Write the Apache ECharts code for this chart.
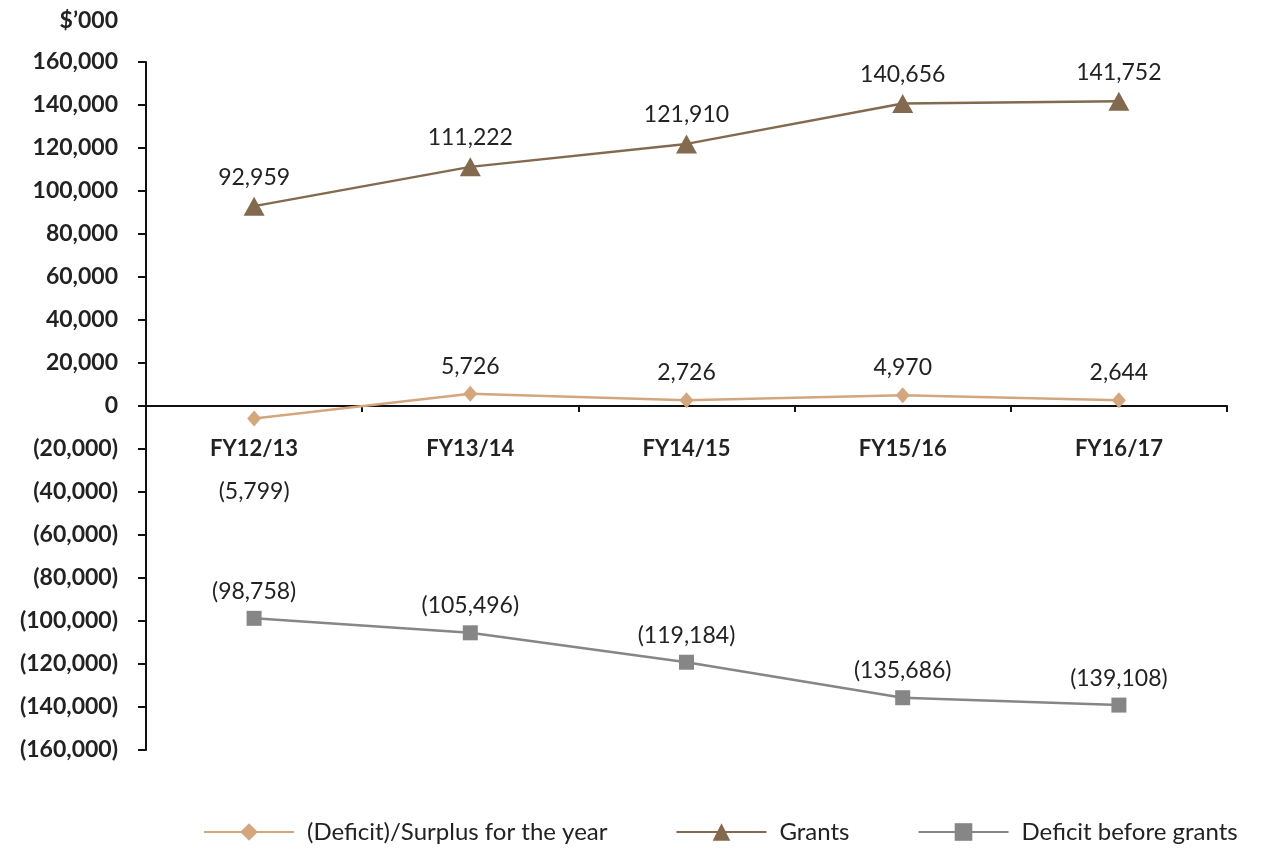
<!DOCTYPE html>
<html>
<head>
<meta charset="utf-8">
<script src="https://cdn.jsdelivr.net/npm/echarts@6/dist/echarts.min.js"></script>
<style>
  html, body { margin: 0; padding: 0; background: #fff; }
  #chart { width: 1273px; height: 849px; }
</style>
</head>
<body>
<div id="chart"></div>
<script>
const years = ['FY12/13', 'FY13/14', 'FY14/15', 'FY15/16', 'FY16/17'];
const surplus = [-5799, 5726, 2726, 4970, 2644];
const grants = [92959, 111222, 121910, 140656, 141752];
const deficitBeforeGrants = [-98758, -105496, -119184, -135686, -139108];
const yMin = -160000, yMax = 160000, yStep = 20000;

function fmt(v) {
  const s = Math.abs(v).toLocaleString('en-US');
  return v < 0 ? '(' + s + ')' : s;
}

const font = 'Lato, "Noto Sans", sans-serif';
const labelStyle = { show: true, position: 'top', distance: 8, color: '#222', fontSize: 23, fontFamily: font,
  formatter: p => fmt(p.value) };

let chart = echarts.init(document.getElementById('chart'));
chart.setOption({
  animation: false,
  textStyle: { fontFamily: font },
  grid: { left: 146, right: 46, top: 62, bottom: 99 },
  legend: {
    bottom: 0, left: 198,
    itemWidth: 90, itemHeight: 22, itemGap: 68,
    textStyle: { fontSize: 24, color: '#222', fontFamily: font, padding: [0, 0, 0, 8] },
    data: ['(Deficit)/Surplus for the year', 'Grants', 'Deficit before grants']
  },
  xAxis: {
    type: 'category',
    data: years,
    axisLine: { onZero: true, lineStyle: { color: '#111', width: 2 } },
    axisTick: { show: true, inside: false, length: 6, lineStyle: { color: '#111', width: 2 } },
    // labels sit just under the zero line, as in the original
    axisLabel: { margin: -312, fontSize: 22, fontWeight: 'bold', color: '#222', fontFamily: font }
  },
  yAxis: {
    type: 'value',
    min: yMin, max: yMax, interval: yStep,
    name: '$\u2019000',
    nameLocation: 'end',
    nameGap: 30,
    nameTextStyle: { fontSize: 23, fontWeight: 'bold', color: '#222', align: 'right', padding: [0, 28, 0, 0] },
    axisLine: { show: true, onZero: false, lineStyle: { color: '#111', width: 2 } },
    axisTick: { show: true, length: 8, lineStyle: { color: '#111', width: 2 } },
    splitLine: { show: false },
    axisLabel: { margin: 28, fontSize: 23, fontWeight: 'bold', color: '#222', fontFamily: font,
      formatter: v => fmt(v) }
  },
  series: [
    {
      name: '(Deficit)/Surplus for the year',
      type: 'line',
      data: surplus.map(v => v < 0
        ? { value: v, label: { position: 'bottom', distance: 54 } }
        : v),
      symbol: 'diamond', symbolSize: [14, 16],
      itemStyle: { color: '#D4A67D' },
      lineStyle: { color: '#D4A67D', width: 2.5 },
      label: labelStyle,
      z: 3
    },
    {
      name: 'Grants',
      type: 'line',
      data: grants,
      symbol: 'triangle', symbolSize: [21, 19],
      itemStyle: { color: '#836A4F' },
      lineStyle: { color: '#836A4F', width: 2.5 },
      label: labelStyle
    },
    {
      name: 'Deficit before grants',
      type: 'line',
      data: deficitBeforeGrants,
      symbol: 'rect', symbolSize: 15,
      itemStyle: { color: '#868686' },
      lineStyle: { color: '#868686', width: 2.5 },
      label: labelStyle
    }
  ]
});
</script>
</body>
</html>
